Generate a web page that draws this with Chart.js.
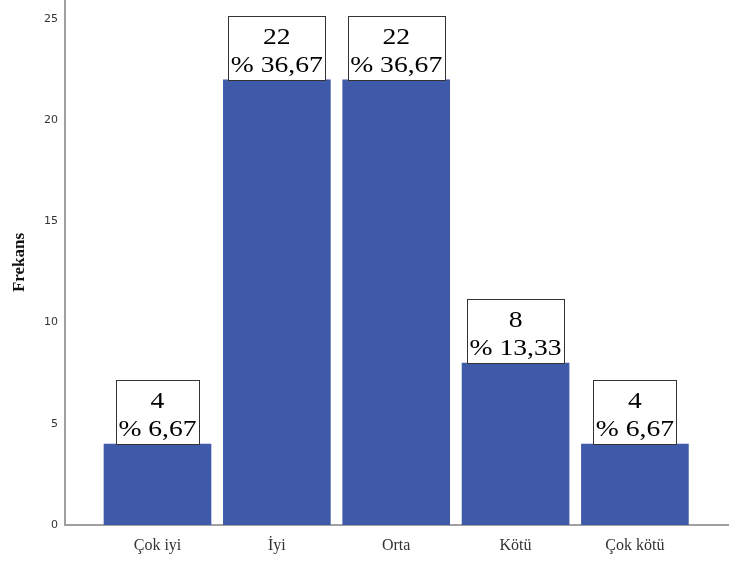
<!DOCTYPE html>
<html>
<head>
<meta charset="utf-8">
<script src="https://cdn.jsdelivr.net/npm/chart.js@4/dist/chart.umd.min.js"></script>
<style>
  html, body { margin: 0; padding: 0; background: #fff; }
  #wrap { width: 732px; height: 562px; }
</style>
</head>
<body>
<div id="wrap"><canvas id="chart" width="732" height="562"></canvas></div>
<script>
// --- Data ---
const categories = ['Çok iyi', 'İyi', 'Orta', 'Kötü', 'Çok kötü'];
const counts = [4, 22, 22, 8, 4];
const percents = ['6,67', '36,67', '36,67', '13,33', '6,67'];
const yTicks = [0, 5, 10, 15, 20, 25];

const BAR_COLOR = '#3f5aa8';
const AXIS_COLOR = '#a0a0a0';

// boxed value labels on top of bars
const boxLabels = {
  id: 'boxLabels',
  afterDatasetsDraw(chart) {
    const ctx = chart.ctx;
    const meta = chart.getDatasetMeta(0);
    const sx = 1.15;
    ctx.save();
    ctx.font = '24px "Liberation Serif", "Times New Roman", serif';
    ctx.textAlign = 'center';
    ctx.textBaseline = 'alphabetic';
    meta.data.forEach((bar, i) => {
      const l1 = String(counts[i]);
      const l2 = '% ' + percents[i];
      const tw = Math.max(ctx.measureText(l1).width, ctx.measureText(l2).width) * sx;
      const w = Math.round(tw + 5);
      const h = 64;
      const x0 = Math.round(bar.x - w / 2) + 0.5;
      const y0 = Math.round(bar.y - h) + 0.5;
      ctx.fillStyle = '#fff';
      ctx.fillRect(x0, y0, w, h);
      ctx.strokeStyle = '#333';
      ctx.lineWidth = 1;
      ctx.strokeRect(x0, y0, w, h);
      ctx.fillStyle = '#000';
      ctx.save();
      ctx.translate(bar.x, 0);
      ctx.scale(sx, 1);
      ctx.fillText(l1, 0, bar.y - 36);
      ctx.fillText(l2, 0, bar.y - 8);
      ctx.restore();
    });
    ctx.restore();
  }
};

const chart = new Chart(document.getElementById('chart'), {
  type: 'bar',
  data: {
    datasets: [{
      data: counts.map((c, i) => ({ x: i, y: c })),
      backgroundColor: BAR_COLOR,
      borderWidth: 0,
      barThickness: 107
    }]
  },
  options: {
    responsive: false,
    animation: false,
    layout: { padding: { left: 0, right: 4, top: 0, bottom: 0 } },
    plugins: { legend: { display: false }, tooltip: { enabled: false } },
    scales: {
      x: {
        type: 'linear',
        offset: false,
        min: -0.775,
        max: 4.78,
        afterBuildTicks: s => { s.ticks = categories.map((c, i) => ({ value: i })); },
        afterFit: s => { s.height = 37; s.paddingLeft = 0; s.paddingRight = 0; },
        grid: { display: false, drawTicks: false },
        border: { color: AXIS_COLOR, width: 2 },
        ticks: {
          padding: 11,
          color: '#333',
          font: { family: '"Liberation Serif", "Times New Roman", serif', size: 16 },
          callback: v => categories[v]
        }
      },
      y: {
        min: 0,
        max: 25.94,
        afterBuildTicks: s => { s.ticks = yTicks.map(v => ({ value: v })); },
        afterFit: s => { s.width = 65; s.paddingTop = 0; s.paddingBottom = 0; },
        grid: { display: false, drawTicks: false },
        border: { color: AXIS_COLOR, width: 2 },
        ticks: {
          padding: 7,
          color: '#333',
          font: { family: '"DejaVu Sans", sans-serif', size: 11 }
        },
        title: {
          display: true,
          text: 'Frekans',
          color: '#111',
          padding: { top: 9, bottom: 18 },
          font: { family: '"Liberation Serif", "Times New Roman", serif', size: 17, weight: 'bold' }
        }
      }
    }
  },
  plugins: [boxLabels]
});
</script>
</body>
</html>
